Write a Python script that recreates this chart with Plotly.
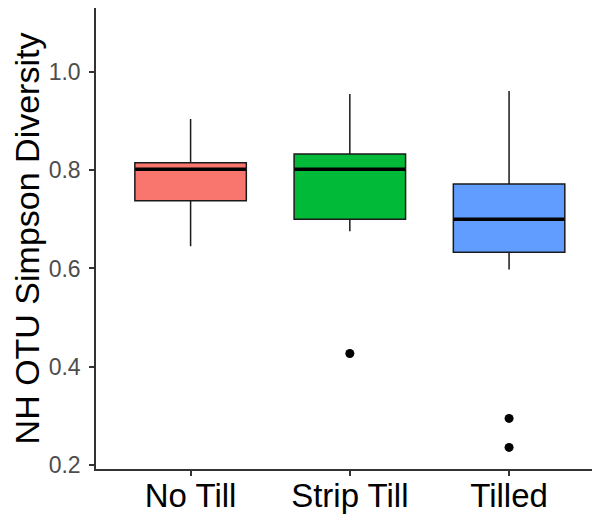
import plotly.graph_objects as go

categories = ["No Till", "Strip Till", "Tilled"]
q1 = [0.738, 0.700, 0.633]
medians = [0.802, 0.802, 0.700]
q3 = [0.815, 0.833, 0.772]
lower_whisker = [0.645, 0.676, 0.598]
upper_whisker = [0.904, 0.955, 0.961]
outlier_x = ["Strip Till", "Tilled", "Tilled"]
outlier_y = [0.427, 0.295, 0.236]
fill_colors = ["#F8766D", "#00BA38", "#619CFF"]

y_ticks = [0.2, 0.4, 0.6, 0.8, 1.0]
y_tick_text = ["0.2", "0.4", "0.6", "0.8", "1.0"]

fig = go.Figure()
for i, cat in enumerate(categories):
    fig.add_trace(go.Box(
        x=[cat], q1=[q1[i]], median=[medians[i]], q3=[q3[i]],
        lowerfence=[lower_whisker[i]], upperfence=[upper_whisker[i]],
        fillcolor=fill_colors[i],
        line=dict(color="#1a1a1a", width=1.5),
        whiskerwidth=0, width=0.70, boxpoints=False,
        showlegend=False, hoverinfo="skip",
    ))

# thick median bars (ggplot style); line-ew length = 1.4 * size
fig.add_trace(go.Scatter(
    x=categories, y=medians, mode="markers",
    marker=dict(symbol="line-ew", size=79, line=dict(color="black", width=3.5)),
    showlegend=False, hoverinfo="skip",
))

fig.add_trace(go.Scatter(
    x=outlier_x, y=outlier_y, mode="markers",
    marker=dict(color="black", size=9),
    showlegend=False, hoverinfo="skip",
))

# page body has an 8px margin, so the figure is sized to fit in the window
fig.update_layout(
    width=592, height=510,
    margin=dict(l=88, r=0, t=0, b=49, autoexpand=False),
    paper_bgcolor="white", plot_bgcolor="white",
    font=dict(family="Liberation Sans, Arial, sans-serif", color="black"),
    xaxis=dict(
        type="category", categoryorder="array", categoryarray=categories,
        range=[-0.594, 2.571], automargin=False,
        showgrid=False, zeroline=False,
        showline=True, linecolor="#333333", linewidth=1.5,
        ticks="outside", ticklen=5, tickwidth=1.5, tickcolor="#333333",
        tickfont=dict(size=33, color="black"), ticklabelstandoff=-8,
    ),
    yaxis=dict(
        range=[0.192, 1.130], automargin=False,
        tickvals=y_ticks, ticktext=y_tick_text,
        showgrid=False, zeroline=False,
        showline=True, linecolor="#333333", linewidth=1.5,
        ticks="outside", ticklen=5, tickwidth=1.5, tickcolor="#333333",
        tickfont=dict(size=23, color="#4d4d4d"), ticklabelstandoff=4,
        title=dict(text="NH OTU Simpson Diversity", font=dict(size=34, color="black"), standoff=3),
    ),
)

fig.write_html("out.html")
